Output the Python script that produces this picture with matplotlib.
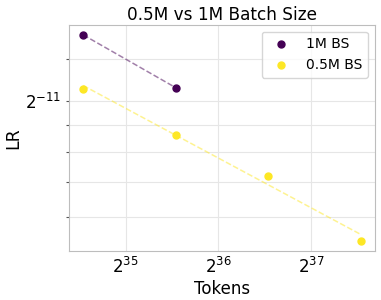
import numpy as np
import matplotlib
matplotlib.use("Agg")
import matplotlib.pyplot as plt
from matplotlib.ticker import LogLocator, NullFormatter

# tokens seen and the best LR for each batch size
tokens_1m = [25e9, 50e9]
lr_1m = [6.52e-4, 5.17e-4]

tokens_05m = [25e9, 50e9, 100e9, 200e9]
lr_05m = [5.14e-4, 4.21e-4, 3.51e-4, 2.64e-4]

labels = ["1M BS", "0.5M BS"]
cmap = plt.get_cmap("viridis")
colors = [cmap(0.0), cmap(1.0)]

fig = plt.figure(figsize=(3.81, 3.0), dpi=100)
ax = fig.add_axes([0.182, 0.163, 0.802, 0.755])

for tok, lr, lab, col in zip([tokens_1m, tokens_05m], [lr_1m, lr_05m], labels, colors):
    tok = np.array(tok)
    lr = np.array(lr)
    ax.scatter(tok, lr, s=25, color=col, label=lab, zorder=3)
    # power law fit in log2 space
    k, b = np.polyfit(np.log2(tok), np.log2(lr), 1)
    ax.plot(tok, 2 ** (k * np.log2(tok) + b), "--", color=col, alpha=0.5, lw=1.1)

ax.set_xscale("log", base=2)
ax.set_yscale("log", base=2)
ax.yaxis.set_minor_locator(LogLocator(base=2, subs=[1.2, 1.4, 1.6, 1.8]))
ax.yaxis.set_minor_formatter(NullFormatter())

ax.grid(True, which="both", color="#e6e6e6", lw=0.8)
ax.set_axisbelow(True)
for sp in ax.spines.values():
    sp.set_color("#bdbdbd")

ax.tick_params(axis="x", which="both", length=0, labelsize=12, pad=4)
ax.tick_params(axis="y", which="major", length=2.5, width=0.8, color="#555555", labelsize=12)
ax.tick_params(axis="y", which="minor", length=2, width=0.8, color="#555555")

ax.set_title("0.5M vs 1M Batch Size", fontsize=12.2, pad=3)
ax.set_xlabel("Tokens", fontsize=12, labelpad=2)
ax.set_ylabel("LR", fontsize=12.5, labelpad=2)
ax.legend(fontsize=10, loc="upper right")

fig.savefig("out.png", dpi=100)
